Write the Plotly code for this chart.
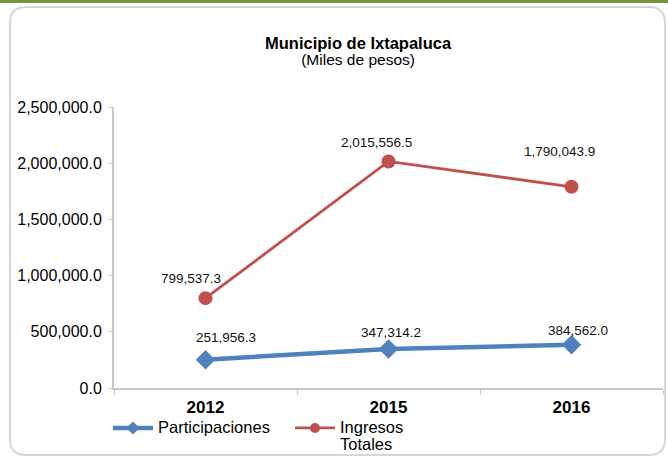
import plotly.graph_objects as go

years = ["2012", "2015", "2016"]
participaciones = [251956.3, 347314.2, 384562.0]
ingresos_totales = [799537.3, 2015556.5, 1790043.9]
y_ticks = [0, 500000, 1000000, 1500000, 2000000, 2500000]

# label offsets (px) relative to each point, as in the original chart
part_offsets = [(20, -22), (2, -16), (6, -14)]
ing_offsets = [(-15, -20), (-12, -19), (-12, -35)]

BLUE = "#4F81BD"
RED = "#C0504D"
AXIS = "#C8C8BC"
FONT = "Liberation Sans, Arial, sans-serif"

W, H = 668, 456
L, R, T, B = 114, 5, 107, 68
PW, PH = W - L - R, H - T - B


def px_x(px):
    return (px - L) / PW


def px_y(py):
    return (H - B - py) / PH


def legend_name(s):
    return "<span style='font-size:16.5px'>" + s + "</span>"


fig = go.Figure()
fig.add_trace(go.Scatter(
    x=years, y=participaciones, showlegend=False,
    mode="lines+markers",
    line=dict(color=BLUE, width=4.5),
    marker=dict(symbol="diamond", size=15, color=BLUE),
))
fig.add_trace(go.Scatter(
    x=years, y=ingresos_totales, showlegend=False,
    mode="lines+markers",
    line=dict(color=RED, width=2.8),
    marker=dict(symbol="circle", size=14, color=RED),
))
# legend entries (smaller symbols, like the original legend)
fig.add_trace(go.Scatter(
    x=[None], y=[None], name=legend_name("Participaciones"),
    mode="lines+markers",
    line=dict(color=BLUE, width=4.5),
    marker=dict(symbol="diamond", size=10, color=BLUE),
))
fig.add_trace(go.Scatter(
    x=[None], y=[None], name=legend_name("Ingresos<br>Totales"),
    mode="lines+markers",
    line=dict(color=RED, width=2.8),
    marker=dict(symbol="circle", size=10, color=RED),
))

annotations = []
for vals, offs in ((participaciones, part_offsets), (ingresos_totales, ing_offsets)):
    for i, (v, (dx, dy)) in enumerate(zip(vals, offs)):
        annotations.append(dict(
            x=i, y=v, xref="x", yref="y", text=f"{v:,.1f}", showarrow=False,
            xshift=dx, yshift=-dy,
            font=dict(family=FONT, size=13.5, color="#111111"),
        ))

annotations.append(dict(
    x=px_x(358), y=px_y(32), xref="paper", yref="paper",
    text="<span style='font-size:16.5px'><b>Municipio de Ixtapaluca</b></span><br>"
         "<span style='font-size:15.5px'>(Miles de pesos)</span>",
    showarrow=False, align="center",
    font=dict(family=FONT, size=12, color="#000000"),
))

# rounded frame
fx0, fx1, fy0, fy1, rr = 10, 665, 7, 455, 16
frame = (
    f"M {px_x(fx0 + rr)},{px_y(fy0)} L {px_x(fx1 - rr)},{px_y(fy0)} "
    f"Q {px_x(fx1)},{px_y(fy0)} {px_x(fx1)},{px_y(fy0 + rr)} "
    f"L {px_x(fx1)},{px_y(fy1 - rr)} "
    f"Q {px_x(fx1)},{px_y(fy1)} {px_x(fx1 - rr)},{px_y(fy1)} "
    f"L {px_x(fx0 + rr)},{px_y(fy1)} "
    f"Q {px_x(fx0)},{px_y(fy1)} {px_x(fx0)},{px_y(fy1 - rr)} "
    f"L {px_x(fx0)},{px_y(fy0 + rr)} "
    f"Q {px_x(fx0)},{px_y(fy0)} {px_x(fx0 + rr)},{px_y(fy0)} Z"
)

shapes = [
    dict(type="path", path=frame, xref="paper", yref="paper",
         line=dict(color="#D6D6CC", width=2), layer="below"),
    dict(type="rect", xref="paper", yref="paper",
         x0=px_x(0), x1=px_x(W), y0=px_y(3), y1=px_y(0),
         fillcolor="#77933C", line=dict(width=0)),
]

fig.update_layout(
    width=W, height=H,
    margin=dict(l=L, r=R, t=T, b=B, autoexpand=False),
    paper_bgcolor="white", plot_bgcolor="white",
    font=dict(family=FONT, color="#000000"),
    showlegend=True,
    legend=dict(
        orientation="h", x=px_x(108), y=px_y(413),
        xanchor="left", yanchor="top",
        font=dict(family=FONT, size=13, color="#000000"),
        valign="top", entrywidth=127, itemwidth=40,
        tracegroupgap=0,
        bgcolor="rgba(0,0,0,0)",
    ),
    annotations=annotations,
    shapes=shapes,
)
fig.update_xaxes(
    type="category", range=[-0.5, 2.5],
    showline=True, linecolor=AXIS, linewidth=2,
    ticks="outside", tickson="boundaries", ticklen=5, tickcolor=AXIS,
    showgrid=False, zeroline=False,
    ticklabelstandoff=3,
    tickfont=dict(family=FONT, size=17, color="#000000", weight="bold"),
)
fig.update_yaxes(
    range=[0, 2500000], tickvals=y_ticks, tickformat=",.1f",
    showline=True, linecolor=AXIS, linewidth=2,
    ticks="outside", ticklen=4, tickcolor=AXIS,
    showgrid=False, zeroline=False,
    ticklabelstandoff=3,
    tickfont=dict(family=FONT, size=16, color="#000000"),
)

fig.write_html("out.html", config={"displayModeBar": False},
               post_script="document.body.style.margin='0';")
